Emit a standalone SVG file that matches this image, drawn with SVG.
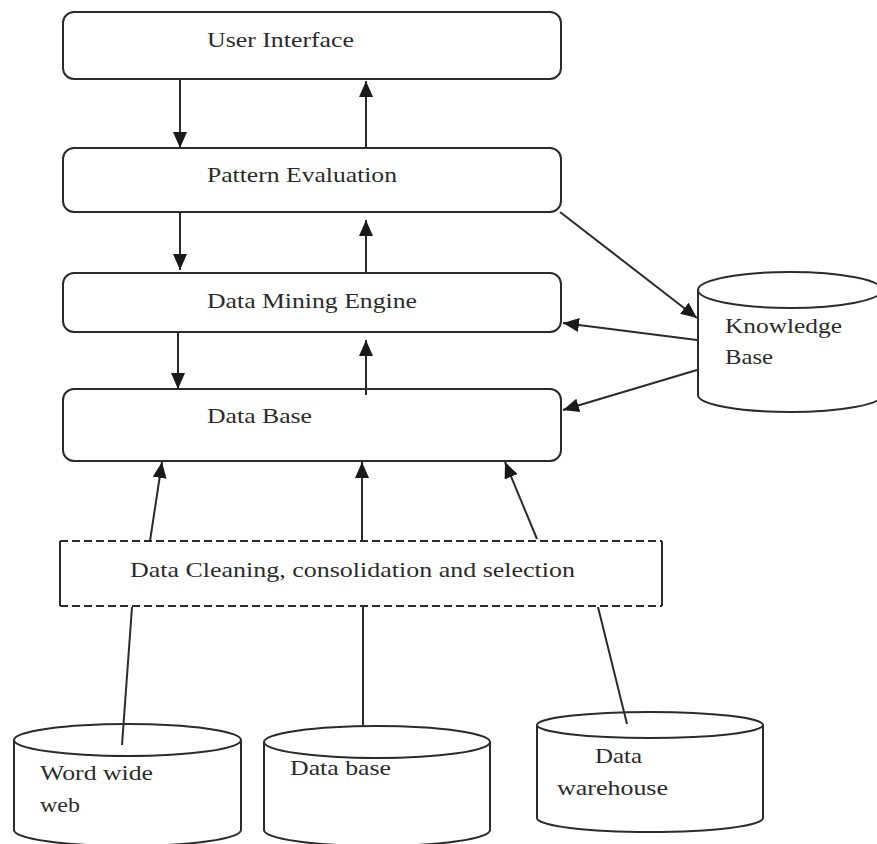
<svg xmlns="http://www.w3.org/2000/svg" width="877" height="844" viewBox="0 0 877 844">
<style>
.box{fill:#fff;stroke:#2b2b2b;stroke-width:2}
.cyl{fill:#fff;stroke:#2b2b2b;stroke-width:2}
.t{font-family:"Liberation Serif","Times New Roman",serif;font-size:22px;fill:#2b2b2b}
.c{stroke:#2b2b2b;stroke-width:2;fill:none}
.a{marker-end:url(#ah)}
.dash{stroke:#2b2b2b;stroke-width:2;stroke-dasharray:8 4;fill:none}
</style>
<defs>
<marker id="ah" markerUnits="userSpaceOnUse" markerWidth="16" markerHeight="14" refX="16" refY="7" orient="auto">
<path d="M0,0 L16,7 L0,14 z" fill="#1a1a1a"/>
</marker>
</defs>
<rect width="877" height="844" fill="#fff"/>
<g id="user-interface">
<rect class="box" x="63" y="12" width="498" height="67" rx="11"/>
<text class="t" x="207" y="47" textLength="147" lengthAdjust="spacingAndGlyphs">User Interface</text>
</g>
<g id="pattern-evaluation">
<rect class="box" x="63" y="148" width="498" height="64" rx="11"/>
<text class="t" x="207" y="182" textLength="190" lengthAdjust="spacingAndGlyphs">Pattern Evaluation</text>
</g>
<g id="data-mining-engine">
<rect class="box" x="63" y="273" width="498" height="59" rx="11"/>
<text class="t" x="207" y="308" textLength="210" lengthAdjust="spacingAndGlyphs">Data Mining Engine</text>
</g>
<g id="data-base">
<rect class="box" x="63" y="389" width="498" height="72" rx="11"/>
<text class="t" x="207" y="423" textLength="105" lengthAdjust="spacingAndGlyphs">Data Base</text>
</g>
<g id="knowledge-base">
<path class="cyl" d="M698,290 L698,395 A92,17 0 0 0 882,395 L882,290"/>
<ellipse class="cyl" cx="790" cy="290" rx="92" ry="18"/>
<text class="t" x="725" y="333" textLength="117" lengthAdjust="spacingAndGlyphs">Knowledge</text>
<text class="t" x="725" y="364" textLength="48" lengthAdjust="spacingAndGlyphs">Base</text>
</g>
<g id="data-cleaning">
<rect x="60" y="541" width="602" height="65" fill="#fff"/>
<line class="dash" x1="60" y1="541" x2="662" y2="541"/>
<line class="dash" x1="60" y1="606" x2="662" y2="606"/>
<line class="c" x1="60" y1="541" x2="60" y2="606"/>
<line class="c" x1="662" y1="541" x2="662" y2="606"/>
<text class="t" x="130" y="577" textLength="445" lengthAdjust="spacingAndGlyphs">Data Cleaning, consolidation and selection</text>
</g>
<g id="world-wide-web">
<path class="cyl" d="M14,740 L14,830 A113.5,16 0 0 0 241,830 L241,740"/>
<ellipse class="cyl" cx="127.5" cy="740" rx="113.5" ry="16"/>
<text class="t" x="40" y="780" textLength="113" lengthAdjust="spacingAndGlyphs">Word wide</text>
<text class="t" x="40" y="812" textLength="40" lengthAdjust="spacingAndGlyphs">web</text>
</g>
<g id="data-base-source">
<path class="cyl" d="M264,742 L264,830 A113,16 0 0 0 490,830 L490,742"/>
<ellipse class="cyl" cx="377" cy="742" rx="113" ry="16"/>
<text class="t" x="290" y="775" textLength="101" lengthAdjust="spacingAndGlyphs">Data base</text>
</g>
<g id="data-warehouse">
<path class="cyl" d="M537,725 L537,818 A113,14 0 0 0 763,818 L763,725"/>
<ellipse class="cyl" cx="650" cy="725" rx="113" ry="13"/>
<text class="t" x="595" y="763" textLength="47" lengthAdjust="spacingAndGlyphs">Data</text>
<text class="t" x="557" y="795" textLength="111" lengthAdjust="spacingAndGlyphs">warehouse</text>
</g>
<g id="connectors">
<line class="c a" x1="180" y1="79" x2="180" y2="148"/>
<line class="c a" x1="366" y1="148" x2="366" y2="81"/>
<line class="c a" x1="180" y1="212" x2="180" y2="270"/>
<line class="c a" x1="366" y1="273" x2="366" y2="220"/>
<line class="c a" x1="178" y1="332" x2="178" y2="389"/>
<line class="c a" x1="366" y1="395" x2="366" y2="340"/>
<line class="c a" x1="560" y1="212" x2="697" y2="318"/>
<line class="c a" x1="697" y1="340" x2="563" y2="323"/>
<line class="c a" x1="697" y1="370" x2="563" y2="410"/>
<line class="c a" x1="150" y1="541" x2="162" y2="462"/>
<line class="c a" x1="362" y1="541" x2="362" y2="462"/>
<line class="c a" x1="537" y1="539" x2="505" y2="462"/>
<line class="c" x1="122" y1="745" x2="132" y2="607"/>
<line class="c" x1="363" y1="727" x2="363" y2="607"/>
<line class="c" x1="627" y1="724" x2="598" y2="607"/>
</g>
</svg>
